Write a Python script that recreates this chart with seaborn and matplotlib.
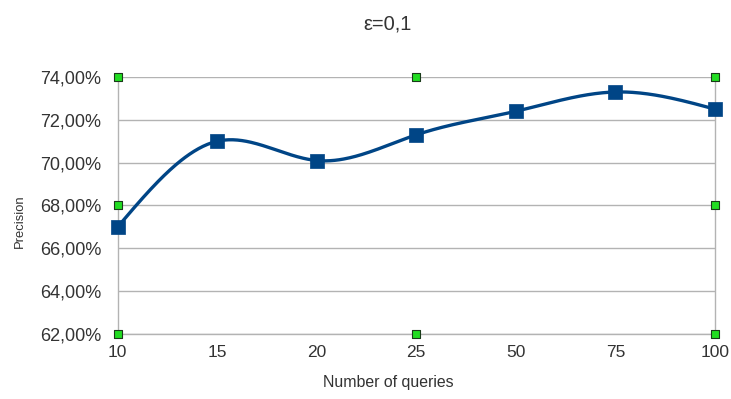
import numpy as np
import pandas as pd
import matplotlib
matplotlib.use("Agg")
import matplotlib.pyplot as plt
import seaborn as sns
from matplotlib.ticker import FuncFormatter

# Data
queries = ["10", "15", "20", "25", "50", "75", "100"]
precision = [67.0, 71.0, 70.1, 71.3, 72.4, 73.3, 72.5]
y_ticks = [62, 64, 66, 68, 70, 72, 74]
title = "ε=0,1"
x_label = "Number of queries"
y_label = "Precision"

line_color = "#004586"
text_color = "#333333"
grid_color = "#b3b3b3"


def natural_spline(x, y, n=400):
    """Natural cubic spline through (x, y), sampled on n points."""
    x = np.asarray(x, float)
    y = np.asarray(y, float)
    k = len(x)
    h = np.diff(x)
    A = np.zeros((k, k))
    b = np.zeros(k)
    A[0, 0] = A[-1, -1] = 1.0
    for i in range(1, k - 1):
        A[i, i - 1] = h[i - 1]
        A[i, i] = 2 * (h[i - 1] + h[i])
        A[i, i + 1] = h[i]
        b[i] = 3 * ((y[i + 1] - y[i]) / h[i] - (y[i] - y[i - 1]) / h[i - 1])
    c = np.linalg.solve(A, b)
    xs = np.linspace(x[0], x[-1], n)
    idx = np.clip(np.searchsorted(x, xs, side="right") - 1, 0, k - 2)
    dx = xs - x[idx]
    bb = (y[idx + 1] - y[idx]) / h[idx] - h[idx] * (2 * c[idx] + c[idx + 1]) / 3
    d = (c[idx + 1] - c[idx]) / (3 * h[idx])
    ys = y[idx] + bb * dx + c[idx] * dx**2 + d * dx**3
    return xs, ys


sns.set_style("white")
plt.rcParams["font.family"] = ["Liberation Sans", "DejaVu Sans"]

pos = np.arange(len(queries))
df = pd.DataFrame({"pos": pos, "precision": precision, "queries": queries})
xs, ys = natural_spline(pos, precision)
curve = pd.DataFrame({"x": xs, "y": ys})

fig = plt.figure(figsize=(7.31, 3.99), dpi=100)
ax = fig.add_axes([0.161, 0.163, 0.817, 0.644])

# horizontal grid
for t in y_ticks:
    ax.axhline(t, color=grid_color, lw=1.0, zorder=0)

sns.lineplot(data=curve, x="x", y="y", ax=ax, color=line_color, lw=2.4,
             sort=False, zorder=3)
sns.scatterplot(data=df, x="pos", y="precision", ax=ax, marker="s", s=88,
                color=line_color, edgecolor=line_color, linewidth=0.5, zorder=4,
                clip_on=False)

# selection handles around the plot area
hx = [0, 3, 6, 0, 6, 0, 3, 6]
hy = [74, 74, 74, 68, 68, 62, 62, 62]
ax.scatter(hx, hy, marker="s", s=32, color="#22dd22", edgecolor="#1a3a1a",
           linewidth=0.8, zorder=6, clip_on=False)

ax.set_xlim(0, len(queries) - 1)
ax.set_ylim(62, 74)
ax.set_xticks(pos)
ax.set_xticklabels(queries)
ax.set_yticks(y_ticks)
ax.yaxis.set_major_formatter(FuncFormatter(lambda v, p: f"{v:.2f}%".replace(".", ",")))

ax.spines["top"].set_visible(False)
for side in ["left", "right", "bottom"]:
    ax.spines[side].set_color(grid_color)
    ax.spines[side].set_linewidth(1.0)

ax.tick_params(axis="both", which="major", direction="out", length=4,
               width=1.0, color=grid_color, labelsize=13, labelcolor=text_color)
ax.tick_params(axis="y", pad=8)
ax.tick_params(axis="x", pad=4, labelsize=12.5)

ax.set_xlabel("")
ax.set_ylabel("")
fig.text(388 / 731, 1 - 383 / 399, x_label, ha="center", va="center",
         fontsize=11.4, color=text_color)
fig.text(20 / 731, 1 - 221 / 399, y_label, ha="center", va="center",
         rotation=90, fontsize=9.4, color=text_color)
fig.text(388 / 731, 1 - 24 / 399, title, ha="center", va="center",
         fontsize=14.5, color=text_color)

fig.savefig("out.png", dpi=100, facecolor="white")
